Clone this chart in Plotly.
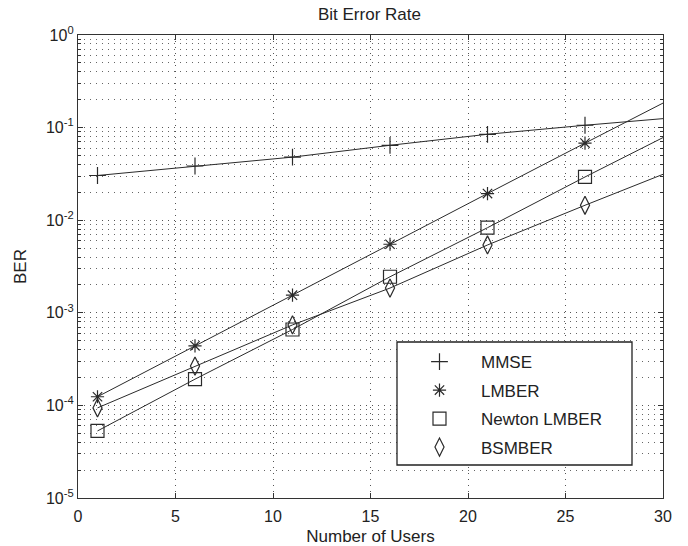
import plotly.graph_objects as go

# ---- data ----
users_markers = [1, 6, 11, 16, 21, 26]
users_line = [1, 6, 11, 16, 21, 26, 30]

mmse = [0.0304, 0.0385, 0.048, 0.0644, 0.0847, 0.106, 0.125]
lmber = [1.24e-4, 4.4e-4, 1.55e-3, 5.5e-3, 1.94e-2, 6.8e-2, 0.184]
newton_lmber = [5.3e-5, 1.92e-4, 6.6e-4, 2.45e-3, 8.3e-3, 2.93e-2, 7.8e-2]
bsmber = [9.4e-5, 2.66e-4, 7.4e-4, 1.85e-3, 5.4e-3, 1.45e-2, 3.13e-2]

series_names = ["MMSE", "LMBER", "Newton LMBER", "BSMBER"]
series_values = [mmse, lmber, newton_lmber, bsmber]
series_symbols = ["cross-thin-open", "asterisk-open", "square-open", "diamond-tall-open"]
series_sizes = [12, 11, 13, 13]

ytick_vals = [1e-5, 1e-4, 1e-3, 1e-2, 1e-1, 1e0]
ytick_text = ["10<sup>-5</sup>", "10<sup>-4</sup>", "10<sup>-3</sup>",
              "10<sup>-2</sup>", "10<sup>-1</sup>", "10<sup>0</sup>"]
xtick_vals = [0, 5, 10, 15, 20, 25, 30]

LINE = "#2a2a2a"
FONT = "Liberation Sans, Arial, sans-serif"

fig = go.Figure()

for name, vals, sym, sz in zip(series_names, series_values, series_symbols, series_sizes):
    # line through all points
    fig.add_trace(go.Scatter(
        x=users_line, y=vals, mode="lines",
        line=dict(color=LINE, width=1), showlegend=False, hoverinfo="skip"))
    # markers every 5 users
    fig.add_trace(go.Scatter(
        x=users_markers, y=vals[:len(users_markers)], mode="markers", name=name,
        legendgroup=name,
        marker=dict(symbol=sym, size=sz, color=LINE, line=dict(color=LINE, width=1.2))))

grid_dash = "1px,5px"

fig.update_layout(
    width=688, height=546,
    margin=dict(l=78, r=25, t=35, b=48),
    paper_bgcolor="white", plot_bgcolor="white",
    font=dict(family=FONT, size=16, color="#222"),
    title=dict(text="Bit Error Rate", x=0.537, xanchor="center",
               y=1 - 14 / 546, yanchor="middle", yref="container",
               font=dict(family=FONT, size=17, color="#222")),
    showlegend=True,
    legend=dict(x=0.547, y=0.3325, xanchor="left", yanchor="top",
                bgcolor="rgba(0,0,0,0)", borderwidth=0,
                font=dict(family=FONT, size=17, color="#222"),
                itemwidth=73, tracegroupgap=3.4),
    shapes=[dict(type="rect", xref="paper", yref="paper",
                 x0=(397 - 78) / 585, x1=(632 - 78) / 585,
                 y0=(498 - 465) / 463, y1=(498 - 342) / 463,
                 fillcolor="white", line=dict(color="#222", width=1.3),
                 layer="above")],
)

fig.update_xaxes(
    range=[0, 30], tickvals=xtick_vals, automargin=False,
    showline=True, linecolor="#333", linewidth=1.3, mirror="ticks",
    ticks="inside", ticklen=5, tickcolor="#333",
    showgrid=True, gridcolor="#555", gridwidth=1, griddash=grid_dash,
    zeroline=False, ticklabelstandoff=4,
    title=dict(text="Number of Users", font=dict(family=FONT, size=17, color="#222"),
               standoff=8),
    tickfont=dict(family=FONT, size=16, color="#222"),
)

fig.update_yaxes(
    type="log", range=[-5, 0], tickvals=ytick_vals, ticktext=ytick_text,
    automargin=False,
    showline=True, linecolor="#333", linewidth=1.3, mirror="ticks",
    ticks="inside", ticklen=5, tickcolor="#333",
    showgrid=True, gridcolor="#555", gridwidth=1, griddash=grid_dash,
    minor=dict(dtick="D1", showgrid=True, gridcolor="#666", gridwidth=1,
               griddash=grid_dash, ticks="inside", ticklen=3, tickcolor="#333"),
    zeroline=False,
    title=dict(text="BER", font=dict(family=FONT, size=17, color="#222"), standoff=14),
    tickfont=dict(family=FONT, size=16, color="#222"),
)

fig.write_html("out.html")
